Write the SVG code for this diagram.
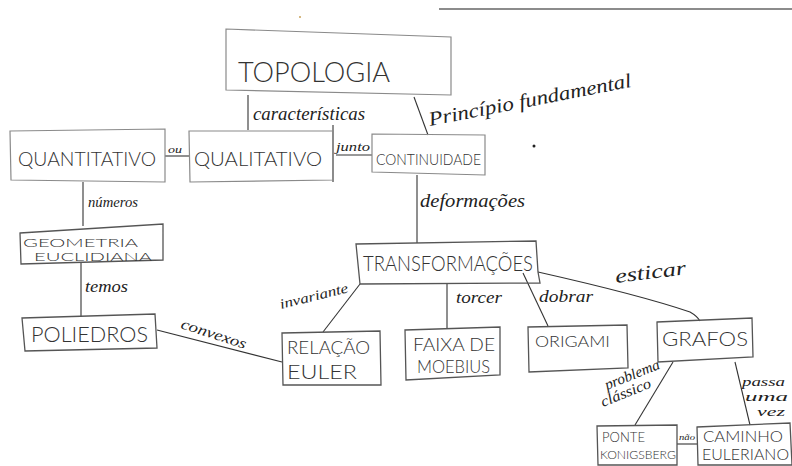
<svg xmlns="http://www.w3.org/2000/svg" width="792" height="466" viewBox="0 0 792 466">
<style>
.box{fill:none;stroke:#8a8a8a;stroke-width:1.2}
.bx2{fill:none;stroke:#555;stroke-width:1.3}
.lbl{font-family:"Lato","Liberation Sans","DejaVu Sans",sans-serif;font-weight:300;fill:#333}
.cur{font-family:"Liberation Serif","DejaVu Serif",serif;font-style:italic;fill:#222}
.ln{fill:none;stroke:#333;stroke-width:1.1}
</style>
<rect width="792" height="466" fill="#ffffff"/>
<line x1="439" y1="9" x2="792" y2="9" stroke="#666" stroke-width="1.5"/>
<circle cx="300" cy="17" r="1" fill="#c9a25a"/>
<circle cx="534" cy="146" r="1.5" fill="#222"/>

<g id="connectors">
  <line class="ln" x1="248" y1="95" x2="248" y2="130"/>
  <line class="ln" x1="414" y1="97" x2="428" y2="135"/>
  <line class="ln" x1="165" y1="156" x2="189" y2="156"/>
  <line class="ln" x1="333" y1="125" x2="333" y2="182"/>
  <line class="ln" x1="336" y1="155" x2="372" y2="155"/>
  <line class="ln" x1="83" y1="182" x2="83" y2="226"/>
  <line class="ln" x1="81" y1="262" x2="81" y2="317"/>
  <line class="ln" x1="417" y1="175" x2="417" y2="243"/>
  <line class="ln" x1="157" y1="330" x2="282" y2="362"/>
  <line class="ln" x1="360" y1="284" x2="323" y2="332"/>
  <line class="ln" x1="447" y1="283" x2="447" y2="328"/>
  <line class="ln" x1="523" y1="273" x2="548" y2="326"/>
  <path class="ln" d="M538 272 Q640 295 690 312 Q697 316 700 321"/>
  <line class="ln" x1="673" y1="362" x2="635" y2="425"/>
  <line class="ln" x1="735" y1="362" x2="750" y2="425"/>
  <line class="ln" x1="677" y1="444" x2="697" y2="444"/>
  <text class="cur" x="253" y="120" font-size="18" textLength="112" lengthAdjust="spacingAndGlyphs">características</text>
  <text class="cur" x="430" y="126" font-size="20" textLength="206" lengthAdjust="spacingAndGlyphs" transform="rotate(-11 430 126)">Princípio fundamental</text>
  <text class="cur" x="168" y="153" font-size="11" textLength="14" lengthAdjust="spacingAndGlyphs">ou</text>
  <text class="cur" x="336" y="151" font-size="13" textLength="34" lengthAdjust="spacingAndGlyphs">junto</text>
  <text class="cur" x="88" y="207" font-size="15" textLength="50" lengthAdjust="spacingAndGlyphs">números</text>
  <text class="cur" x="420" y="207" font-size="19" textLength="105" lengthAdjust="spacingAndGlyphs">deformações</text>
  <text class="cur" x="85" y="292" font-size="16" textLength="43" lengthAdjust="spacingAndGlyphs">temos</text>
  <text class="cur" x="180" y="328" font-size="15" textLength="68" lengthAdjust="spacingAndGlyphs" transform="rotate(18 180 328)">convexos</text>
  <text class="cur" x="281" y="309" font-size="14" textLength="70" lengthAdjust="spacingAndGlyphs" transform="rotate(-14 281 309)">invariante</text>
  <text class="cur" x="456" y="303" font-size="17" textLength="46" lengthAdjust="spacingAndGlyphs">torcer</text>
  <text class="cur" x="539" y="302" font-size="17" textLength="54" lengthAdjust="spacingAndGlyphs">dobrar</text>
  <text class="cur" x="616" y="283" font-size="20" textLength="71" lengthAdjust="spacingAndGlyphs" transform="rotate(-7 616 283)">esticar</text>
  <text class="cur" x="607" y="390" font-size="15" textLength="58" lengthAdjust="spacingAndGlyphs" transform="rotate(-22 607 390)">problema</text>
  <text class="cur" x="603" y="407" font-size="15" textLength="53" lengthAdjust="spacingAndGlyphs" transform="rotate(-22 603 407)">clássico</text>
  <text class="cur" x="742" y="386" font-size="13" textLength="43" lengthAdjust="spacingAndGlyphs">passa</text>
  <text class="cur" x="745" y="401" font-size="13" textLength="43" lengthAdjust="spacingAndGlyphs">uma</text>
  <text class="cur" x="757" y="416" font-size="13" textLength="28" lengthAdjust="spacingAndGlyphs">vez</text>
  <text class="cur" x="679" y="440" font-size="8" textLength="16" lengthAdjust="spacingAndGlyphs">não</text>
</g>

<g id="topologia">
  <path class="box" d="M226 29 L451 37 L451 95 L226 90 Z"/>
  <text class="lbl" x="238" y="82" font-size="28" textLength="152" lengthAdjust="spacingAndGlyphs">TOPOLOGIA</text>
</g>
<g id="quantitativo">
  <path class="box" d="M10 131 L165 129 L165 182 L11 180 Z"/>
  <text class="lbl" x="18" y="166" font-size="19" textLength="138" lengthAdjust="spacingAndGlyphs">QUANTITATIVO</text>
</g>
<g id="qualitativo">
  <path class="box" d="M189 131 L333 131 L333 180 L190 182 Z"/>
  <text class="lbl" x="194" y="166" font-size="19" textLength="128" lengthAdjust="spacingAndGlyphs">QUALITATIVO</text>
</g>
<g id="continuidade">
  <path class="box" d="M372 134 L485 135 L485 175 L372 172 Z"/>
  <text class="lbl" x="376" y="165" font-size="16" textLength="105" lengthAdjust="spacingAndGlyphs">CONTINUIDADE</text>
</g>
<g id="geometria">
  <path class="bx2" d="M20 233 L163 224 L163 260 L21 264 Z"/>
  <text class="lbl" x="23" y="247" font-size="12" textLength="115" lengthAdjust="spacingAndGlyphs">GEOMETRIA</text>
  <text class="lbl" x="34" y="261" font-size="12" textLength="118" lengthAdjust="spacingAndGlyphs">EUCLIDIANA</text>
</g>
<g id="poliedros">
  <path class="bx2" d="M22 318 L155 314 L157 348 L25 351 Z"/>
  <text class="lbl" x="31" y="342" font-size="21" textLength="117" lengthAdjust="spacingAndGlyphs">POLIEDROS</text>
</g>
<g id="transformacoes">
  <path class="bx2" d="M356 244 L536 241 L538 272 L540 283 L360 284 Z"/>
  <text class="lbl" x="363" y="271" font-size="21" textLength="170" lengthAdjust="spacingAndGlyphs">TRANSFORMAÇÕES</text>
</g>
<g id="relacao-euler">
  <path class="bx2" d="M282 333 L380 331 L381 385 L283 385 Z"/>
  <text class="lbl" x="287" y="354" font-size="18" textLength="83" lengthAdjust="spacingAndGlyphs">RELAÇÃO</text>
  <text class="lbl" x="287" y="379" font-size="19" textLength="70" lengthAdjust="spacingAndGlyphs">EULER</text>
</g>
<g id="faixa-moebius">
  <path class="bx2" d="M405 330 L500 327 L500 375 L406 380 Z"/>
  <text class="lbl" x="413" y="351" font-size="17" textLength="82" lengthAdjust="spacingAndGlyphs">FAIXA DE</text>
  <text class="lbl" x="417" y="373" font-size="17" textLength="73" lengthAdjust="spacingAndGlyphs">MOEBIUS</text>
</g>
<g id="origami">
  <path class="bx2" d="M528 327 L627 325 L628 368 L529 372 Z"/>
  <text class="lbl" x="535" y="347" font-size="16" textLength="75" lengthAdjust="spacingAndGlyphs">ORIGAMI</text>
</g>
<g id="grafos">
  <path class="bx2" d="M657 322 L752 318 L753 357 L658 362 Z"/>
  <text class="lbl" x="662" y="346" font-size="20" textLength="86" lengthAdjust="spacingAndGlyphs">GRAFOS</text>
</g>
<g id="ponte-konigsberg">
  <path class="bx2" d="M597 426 L677 425 L677 465 L598 465 Z"/>
  <text class="lbl" x="602" y="442" font-size="13" textLength="43" lengthAdjust="spacingAndGlyphs">PONTE</text>
  <text class="lbl" x="600" y="459" font-size="12" textLength="76" lengthAdjust="spacingAndGlyphs">KONIGSBERG</text>
</g>
<g id="caminho-euleriano">
  <path class="bx2" d="M697 427 L790 423 L792 465 L698 465 Z"/>
  <text class="lbl" x="703" y="442" font-size="15" textLength="80" lengthAdjust="spacingAndGlyphs">CAMINHO</text>
  <text class="lbl" x="702" y="460" font-size="15" textLength="87" lengthAdjust="spacingAndGlyphs">EULERIANO</text>
</g>
</svg>
